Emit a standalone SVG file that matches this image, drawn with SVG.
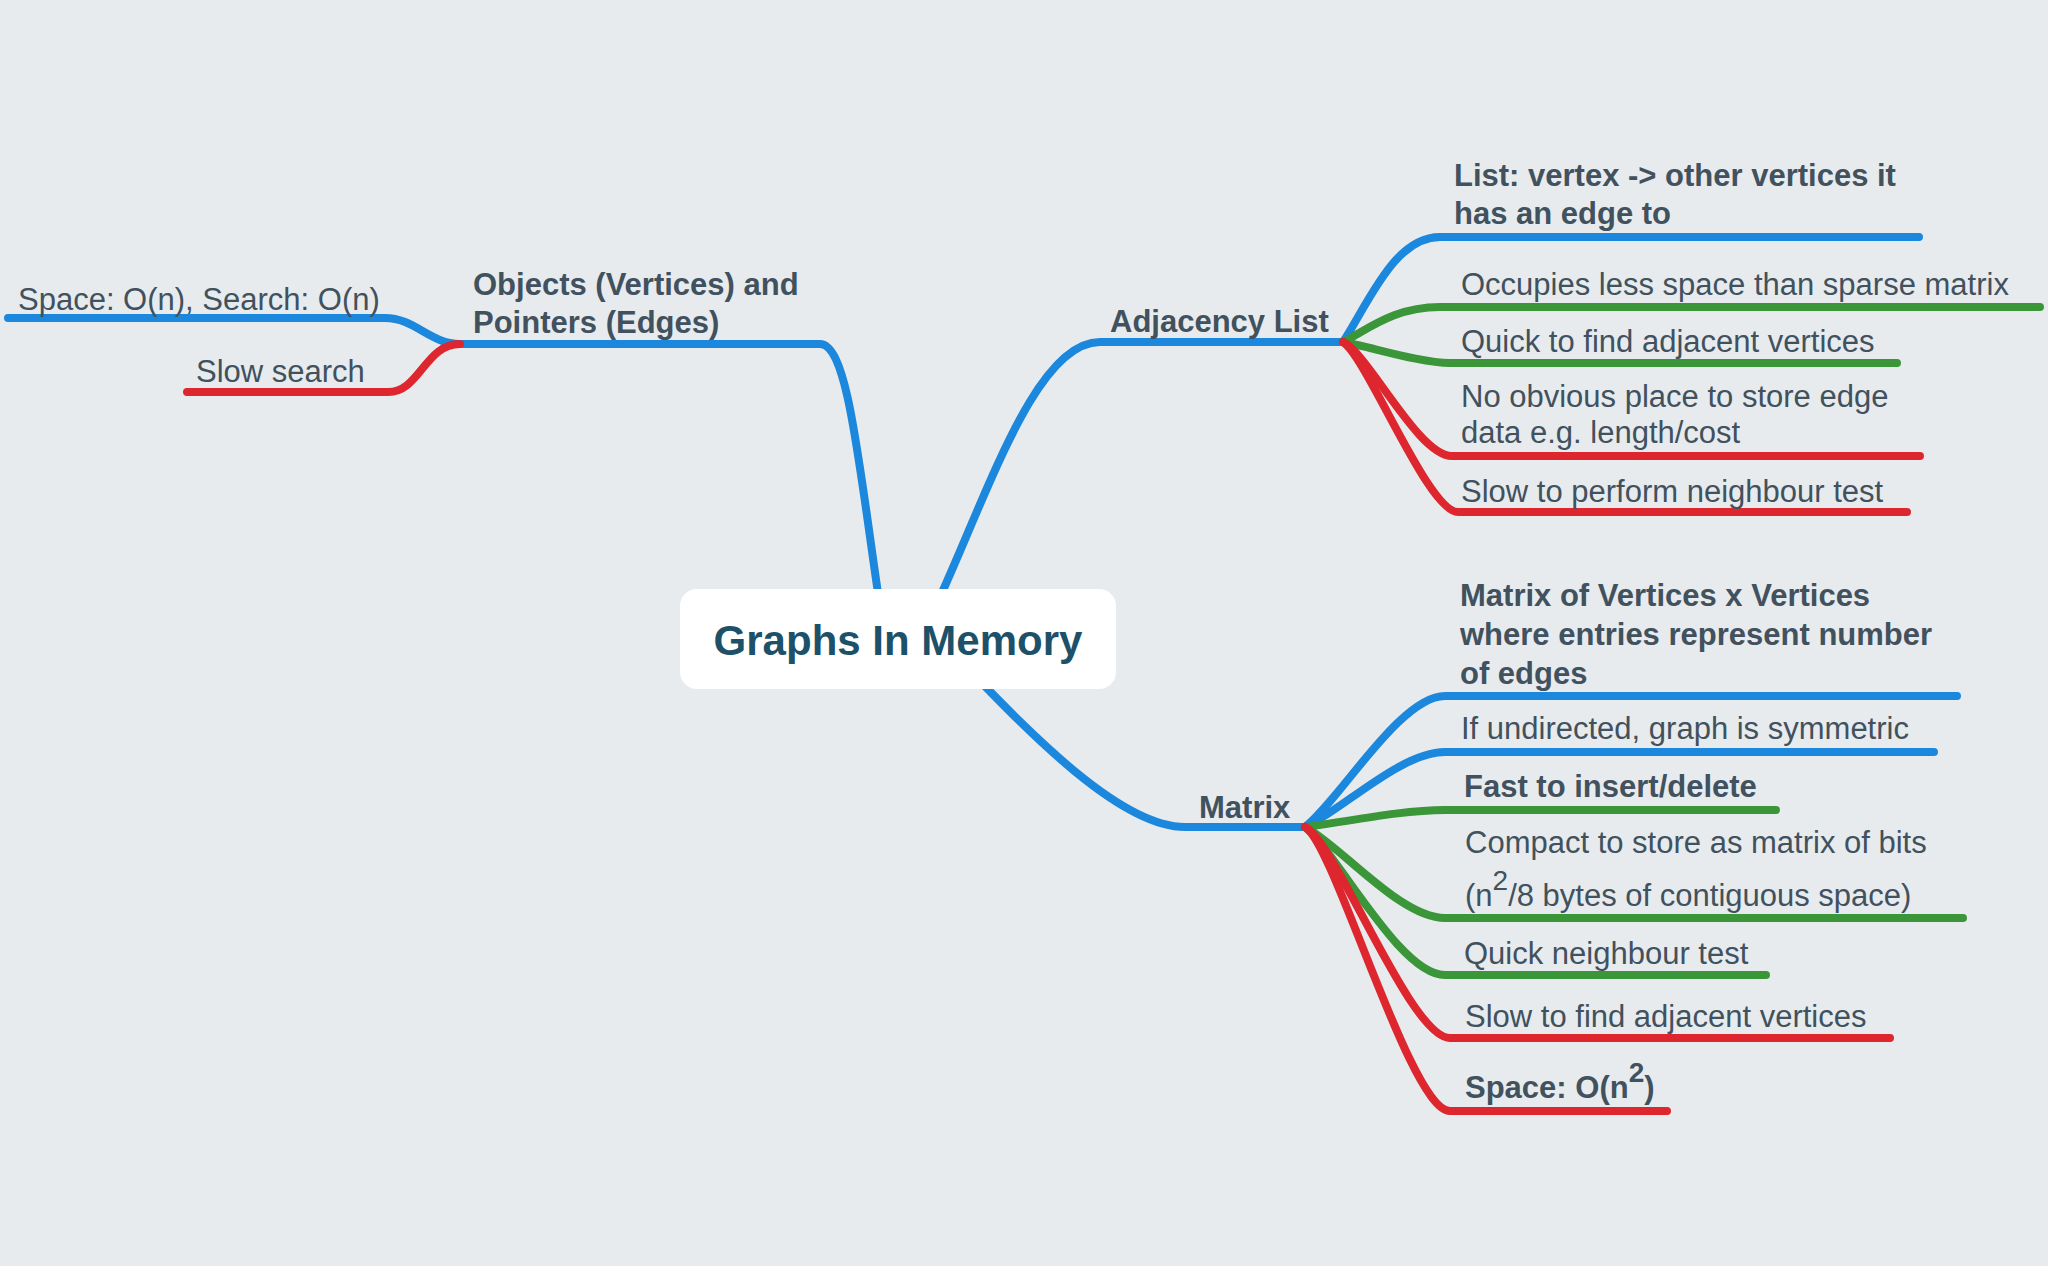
<svg xmlns="http://www.w3.org/2000/svg" width="2048" height="1266" viewBox="0 0 2048 1266">
<style>
.bg{fill:#e7ebee}
.c{fill:none;stroke-width:8;stroke-linecap:round;stroke-linejoin:round}
.b{stroke:#1b87dd}
.g{stroke:#3a9638}
.r{stroke:#dd262d}
text{font-family:"Liberation Sans",Arial,Helvetica,sans-serif;font-size:31px;fill:#41515d}
.bold{font-weight:bold}
.root{font-size:42px;font-weight:bold;fill:#1d5169}
.sup{font-size:28px}
</style>
<rect class="bg" x="0" y="0" width="2048" height="1266"/>
<g id="connectors">
<path class="c b" d="M 885 640 C 860 480 850 344 820 344 L 460 344"/>
<path class="c b" d="M 920 640 C 980 520 1030 342 1100 342 L 1343 342"/>
<path class="c b" d="M 940 640 C 1000 700 1110 827 1185 827 L 1305 827"/>
<path class="c b" d="M 460 344 C 430 344 415 318 385 318 L 8 318"/>
<path class="c r" d="M 460 344 C 425 344 420 392 388 392 L 187 392"/>
<path class="c b" d="M 1343 342 C 1370 300 1395 237 1440 237 L 1919 237"/>
<path class="c g" d="M 1343 342 C 1370 328 1395 307 1440 307 L 2040 307"/>
<path class="c g" d="M 1343 342 C 1368 346 1420 363 1450 363 L 1897 363"/>
<path class="c r" d="M 1343 342 C 1368 353 1418 456 1452 456 L 1920 456"/>
<path class="c r" d="M 1343 342 C 1368 359 1428 512 1458 512 L 1907 512"/>
<path class="c b" d="M 1305 827 C 1340 800 1400 696 1445 696 L 1957 696"/>
<path class="c b" d="M 1305 827 C 1340 812 1400 752 1445 752 L 1934 752"/>
<path class="c g" d="M 1305 827 C 1340 823 1400 810 1445 810 L 1776 810"/>
<path class="c g" d="M 1305 827 C 1340 845 1400 918 1445 918 L 1963 918"/>
<path class="c g" d="M 1305 827 C 1340 857 1400 975 1445 975 L 1766 975"/>
<path class="c r" d="M 1305 827 C 1335 840 1410 1038 1450 1038 L 1890 1038"/>
<path class="c r" d="M 1305 827 C 1335 844 1410 1111 1450 1111 L 1667 1111"/>
</g>
<g id="root">
<rect x="680" y="589" width="436" height="100" rx="17" fill="#ffffff"/>
<text class="root" x="898" y="655" text-anchor="middle">Graphs In Memory</text>
</g>
<g id="objects">
<text class="bold" x="473" y="295">Objects (Vertices) and</text>
<text class="bold" x="473" y="333">Pointers (Edges)</text>
</g>
<g id="obj-space"><text x="18" y="310">Space: O(n), Search: O(n)</text></g>
<g id="obj-slow"><text x="196" y="382">Slow search</text></g>
<g id="adjacency"><text class="bold" x="1110" y="332">Adjacency List</text></g>
<g id="adj-list">
<text class="bold" x="1454" y="186">List: vertex -&gt; other vertices it</text>
<text class="bold" x="1454" y="224">has an edge to</text>
</g>
<g id="adj-occupies"><text x="1461" y="295">Occupies less space than sparse matrix</text></g>
<g id="adj-quick"><text x="1461" y="352">Quick to find adjacent vertices</text></g>
<g id="adj-noplace">
<text x="1461" y="407">No obvious place to store edge</text>
<text x="1461" y="443">data e.g. length/cost</text>
</g>
<g id="adj-slow"><text x="1461" y="502">Slow to perform neighbour test</text></g>
<g id="matrix"><text class="bold" x="1199" y="818">Matrix</text></g>
<g id="mat-def">
<text class="bold" x="1460" y="606">Matrix of Vertices x Vertices</text>
<text class="bold" x="1460" y="645">where entries represent number</text>
<text class="bold" x="1460" y="684">of edges</text>
</g>
<g id="mat-sym"><text x="1461" y="739">If undirected, graph is symmetric</text></g>
<g id="mat-fast"><text class="bold" x="1464" y="797">Fast to insert/delete</text></g>
<g id="mat-compact">
<text x="1465" y="853">Compact to store as matrix of bits</text>
<text x="1465" y="906">(n<tspan class="sup" dy="-16">2</tspan><tspan dy="16">/8 bytes of contiguous space)</tspan></text>
</g>
<g id="mat-quick"><text x="1464" y="964">Quick neighbour test</text></g>
<g id="mat-slow"><text x="1465" y="1027">Slow to find adjacent vertices</text></g>
<g id="mat-space"><text class="bold" x="1465" y="1098">Space: O(n<tspan class="sup" dy="-16">2</tspan><tspan dy="16">)</tspan></text></g>
</svg>
